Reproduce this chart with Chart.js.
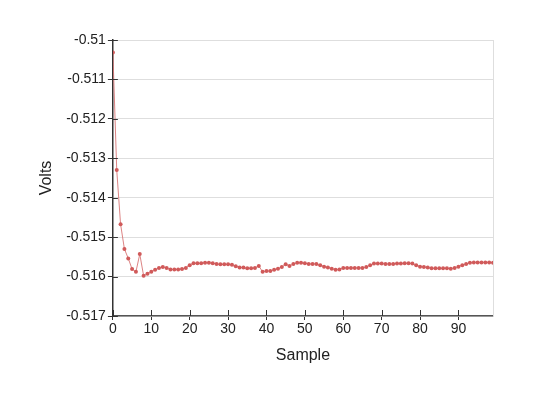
<!DOCTYPE html>
<html>
<head>
<meta charset="utf-8">
<script src="https://cdn.jsdelivr.net/npm/chart.js@4"></script>
<style>
html,body{margin:0;padding:0;background:#fff;}
#wrap{width:537px;height:398px;}
</style>
</head>
<body>
<div id="wrap"><canvas id="c" width="537" height="398"></canvas></div>
<script>
const samples = Array.from({length:100}, (_, i) => i);
const volts = [
-0.51032,-0.5133,-0.51467,-0.5153,-0.51554,-0.51581,-0.51588,-0.51543,-0.51598,-0.51593,
-0.51588,-0.51583,-0.51578,-0.51576,-0.51578,-0.51582,-0.51582,-0.51582,-0.51581,-0.51578,
-0.51571,-0.51566,-0.51566,-0.51566,-0.51565,-0.51565,-0.51566,-0.51568,-0.51569,-0.51569,
-0.51569,-0.5157,-0.51574,-0.51577,-0.51577,-0.51579,-0.51579,-0.51578,-0.51573,-0.51588,
-0.51586,-0.51586,-0.51583,-0.5158,-0.51576,-0.51569,-0.51573,-0.51568,-0.51565,-0.51565,
-0.51566,-0.51568,-0.51568,-0.51568,-0.51571,-0.51575,-0.51577,-0.5158,-0.51583,-0.51582,
-0.51578,-0.51578,-0.51578,-0.51578,-0.51578,-0.51578,-0.51576,-0.51571,-0.51567,-0.51567,
-0.51567,-0.51568,-0.51568,-0.51568,-0.51567,-0.51567,-0.51566,-0.51566,-0.51567,-0.51571,
-0.51575,-0.51576,-0.51577,-0.51579,-0.51579,-0.51579,-0.51579,-0.51579,-0.5158,-0.51578,
-0.51575,-0.51571,-0.51568,-0.51565,-0.51564,-0.51564,-0.51564,-0.51564,-0.51564,-0.51565
];
const xTicks = [0,10,20,30,40,50,60,70,80,90];
const yTicks = [-0.51,-0.511,-0.512,-0.513,-0.514,-0.515,-0.516,-0.517];

const innerTicks = {
  id:'innerTicks',
  afterDraw(chart){
    const ctx = chart.ctx, x = chart.scales.x, y = chart.scales.y;
    ctx.save();
    ctx.strokeStyle = '#333';
    ctx.lineWidth = 1;
    ctx.beginPath();
    y.ticks.forEach(t => {
      const py = Math.round(y.getPixelForValue(t.value)) + 0.5;
      ctx.moveTo(x.left, py); ctx.lineTo(x.left + 5, py);
    });
    x.ticks.forEach(t => {
      const px = Math.round(x.getPixelForValue(t.value)) + 0.5;
      ctx.moveTo(px, y.bottom); ctx.lineTo(px, y.bottom - 6);
    });
    ctx.stroke();
    ctx.restore();
  }
};

new Chart(document.getElementById('c'), {
  type:'line',
  data:{
    datasets:[{
      data: samples.map((s,i)=>({x:s, y:volts[i]})),
      borderColor:'rgba(214,110,110,0.85)',
      borderWidth:1,
      pointRadius:2,
      pointBackgroundColor:'#d05a5a',
      pointBorderWidth:0,
      tension:0
    }]
  },
  options:{
    responsive:false,
    animation:false,
    layout:{padding:{top:40,right:36,bottom:29,left:33}},
    plugins:{legend:{display:false},tooltip:{enabled:false}},
    scales:{
      x:{
        type:'linear', min:0, max:99,
        afterBuildTicks(s){ s.ticks = xTicks.map(v=>({value:v})); },
        grid:{display:true, drawOnChartArea:false, tickLength:4, tickColor:'#333'},
        border:{color:'#555', width:1.5},
        ticks:{color:'#222', font:{family:'Liberation Sans, Arial', size:14}, padding:1, maxRotation:0},
        title:{display:true, text:'Sample', color:'#222', font:{family:'Liberation Sans, Arial', size:16}, padding:{top:7}}
      },
      y:{
        type:'linear', min:-0.517, max:-0.51,
        afterBuildTicks(s){ s.ticks = yTicks.map(v=>({value:v})); },
        grid:{color:'#dedede', tickColor:'#333', tickLength:5},
        border:{color:'#333', width:1.5},
        ticks:{color:'#222', font:{family:'Liberation Sans, Arial', size:14}, padding:2,
          callback:v=>String(+v.toFixed(3))},
        title:{display:true, text:'Volts', color:'#222', font:{family:'Liberation Sans, Arial', size:16}, padding:{bottom:8}}
      },
      yr:{
        position:'right', type:'linear', min:-0.517, max:-0.51,
        grid:{display:false},
        ticks:{display:false},
        border:{color:'#dedede', width:1}
      }
    }
  },
  plugins:[innerTicks]
});
</script>
</body>
</html>
